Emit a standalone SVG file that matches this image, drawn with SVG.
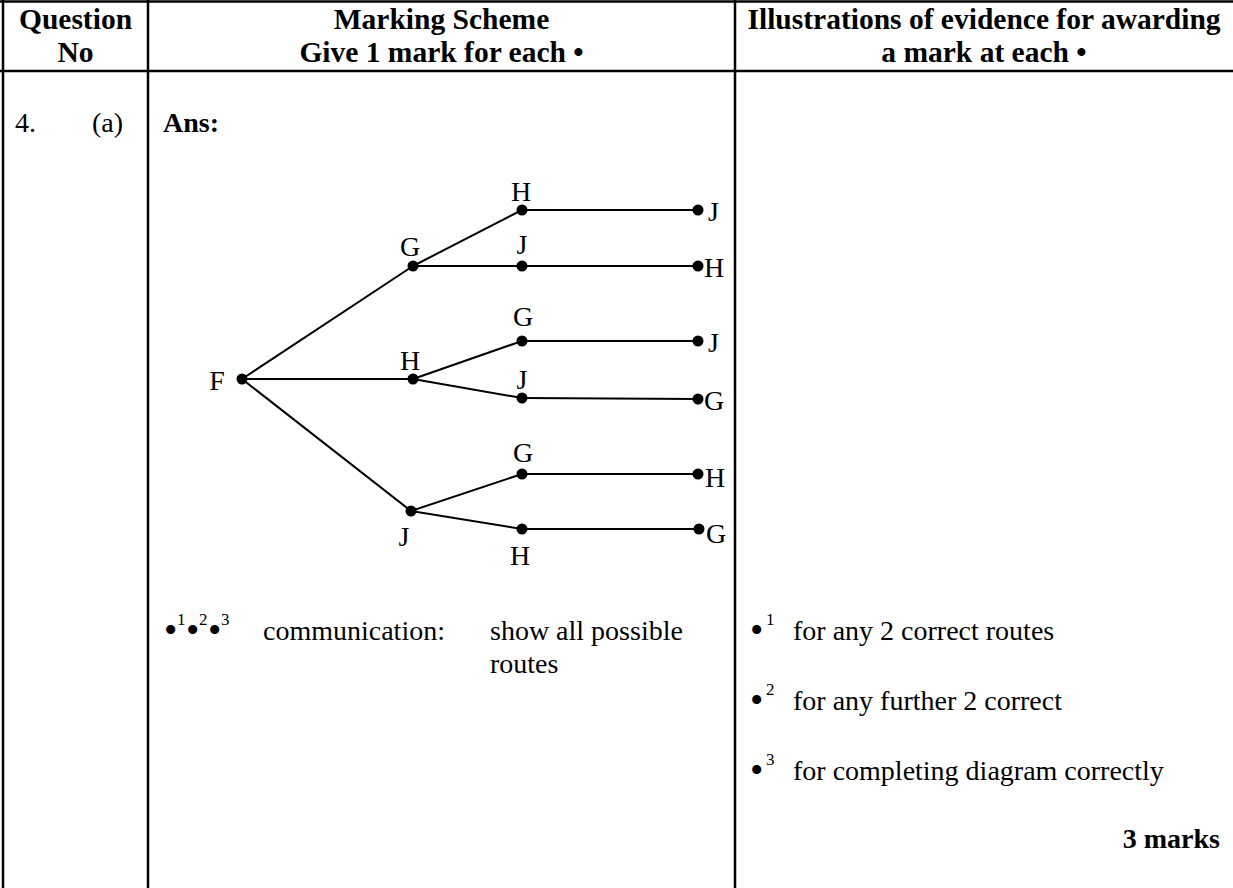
<svg xmlns="http://www.w3.org/2000/svg" width="1233" height="888" viewBox="0 0 1233 888">
<style>
.t{font-family:"Liberation Serif","Times New Roman",serif;font-size:28px;fill:#000}
.b{font-weight:bold}
.h{font-size:29.5px}
.m{text-anchor:middle}
.e{text-anchor:end}
.s{font-size:17px}
.u{font-size:38px}
.g{stroke:#000;stroke-width:2.5;fill:none}
.c{stroke:#000;stroke-width:2;fill:none}
.d{fill:#000}
</style>
<rect width="1233" height="888" fill="#fff"/>
<g id="table">
<line class="g" x1="0" y1="1.5" x2="1233" y2="1.5"/>
<line class="g" x1="0" y1="71" x2="1233" y2="71"/>
<line class="g" x1="3" y1="0" x2="3" y2="888"/>
<line class="g" x1="148" y1="0" x2="148" y2="888"/>
<line class="g" x1="735" y1="0" x2="735" y2="888"/>
</g>
<g id="header">
<text class="t b h m" x="75.5" y="29">Question</text>
<text class="t b h m" x="75.5" y="62">No</text>
<text class="t b h m" x="441.5" y="29">Marking Scheme</text>
<text class="t b h m" x="441.5" y="62">Give 1 mark for each •</text>
<text class="t b h m" x="984" y="29">Illustrations of evidence for awarding</text>
<text class="t b h m" x="984" y="62">a mark at each •</text>
</g>
<g id="question">
<text class="t" x="15" y="132">4.</text>
<text class="t" x="92" y="132">(a)</text>
<text class="t b" x="163" y="132">Ans:</text>
</g>
<g id="connectors">
<line class="c" x1="242" y1="379" x2="413" y2="266"/>
<line class="c" x1="242" y1="379" x2="413" y2="379"/>
<line class="c" x1="242" y1="379" x2="411" y2="511"/>
<line class="c" x1="413" y1="266" x2="522" y2="210"/>
<line class="c" x1="413" y1="266" x2="522" y2="266"/>
<line class="c" x1="413" y1="379" x2="522" y2="341"/>
<line class="c" x1="413" y1="379" x2="522" y2="398"/>
<line class="c" x1="411" y1="511" x2="522" y2="474"/>
<line class="c" x1="411" y1="511" x2="522" y2="529"/>
<line class="c" x1="522" y1="210" x2="698" y2="210"/>
<line class="c" x1="522" y1="266" x2="698" y2="266"/>
<line class="c" x1="522" y1="341" x2="698" y2="341"/>
<line class="c" x1="522" y1="398" x2="698" y2="399"/>
<line class="c" x1="522" y1="474" x2="698" y2="474"/>
<line class="c" x1="522" y1="529" x2="699" y2="529"/>
</g>
<g id="node-F"><circle class="d" cx="242" cy="379" r="5.5"/><text class="t m" x="217" y="390">F</text></g>
<g id="node-FG"><circle class="d" cx="413" cy="266" r="5.5"/><text class="t m" x="410" y="256">G</text></g>
<g id="node-FH"><circle class="d" cx="413" cy="379" r="5.5"/><text class="t m" x="410" y="370">H</text></g>
<g id="node-FJ"><circle class="d" cx="411" cy="511" r="5.5"/><text class="t m" x="404" y="546">J</text></g>
<g id="node-FGH"><circle class="d" cx="522" cy="210" r="5.5"/><text class="t m" x="521" y="201">H</text></g>
<g id="node-FGJ"><circle class="d" cx="522" cy="266" r="5.5"/><text class="t m" x="522" y="254">J</text></g>
<g id="node-FHG"><circle class="d" cx="522" cy="341" r="5.5"/><text class="t m" x="523" y="326">G</text></g>
<g id="node-FHJ"><circle class="d" cx="522" cy="398" r="5.5"/><text class="t m" x="522" y="389">J</text></g>
<g id="node-FJG"><circle class="d" cx="522" cy="474" r="5.5"/><text class="t m" x="523" y="462">G</text></g>
<g id="node-FJH"><circle class="d" cx="522" cy="529" r="5.5"/><text class="t m" x="520" y="565">H</text></g>
<g id="node-FGHJ"><circle class="d" cx="698" cy="210" r="5.5"/><text class="t" x="708" y="221">J</text></g>
<g id="node-FGJH"><circle class="d" cx="698" cy="266" r="5.5"/><text class="t" x="704" y="277">H</text></g>
<g id="node-FHGJ"><circle class="d" cx="698" cy="341" r="5.5"/><text class="t" x="708" y="352">J</text></g>
<g id="node-FHJG"><circle class="d" cx="698" cy="399" r="5.5"/><text class="t" x="704" y="410">G</text></g>
<g id="node-FJGH"><circle class="d" cx="698" cy="474" r="5.5"/><text class="t" x="705" y="487">H</text></g>
<g id="node-FJHG"><circle class="d" cx="699" cy="529" r="5.5"/><text class="t" x="706" y="543">G</text></g>
<g id="scheme">
<text class="t u" x="164" y="643">•</text><text class="t s" x="177" y="625">1</text>
<text class="t u" x="186" y="643">•</text><text class="t s" x="199" y="625">2</text>
<text class="t u" x="208" y="643">•</text><text class="t s" x="221" y="625">3</text>
<text class="t" x="263" y="640">communication:</text>
<text class="t" x="490" y="640">show all possible</text>
<text class="t" x="490" y="673">routes</text>
</g>
<g id="evidence">
<text class="t u" x="750" y="643">•</text><text class="t s" x="766" y="625">1</text>
<text class="t" x="793" y="640">for any 2 correct routes</text>
<text class="t u" x="750" y="713">•</text><text class="t s" x="766" y="695">2</text>
<text class="t" x="793" y="710">for any further 2 correct</text>
<text class="t u" x="750" y="783">•</text><text class="t s" x="766" y="765">3</text>
<text class="t" x="793" y="780">for completing diagram correctly</text>
<text class="t b e" x="1220" y="848">3 marks</text>
</g>
</svg>
